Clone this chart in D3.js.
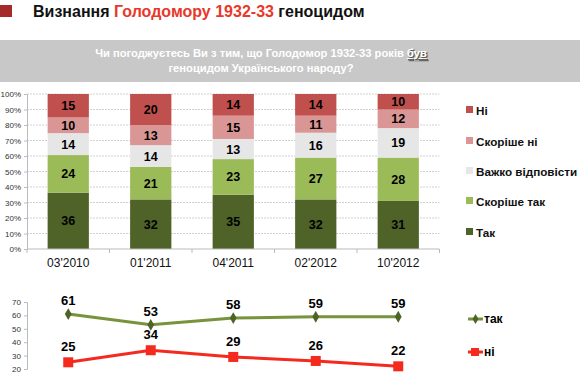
<!DOCTYPE html>
<html><head><meta charset="utf-8">
<script src="https://cdn.jsdelivr.net/npm/d3@7"></script>
<style>body{margin:0;background:#fff;}svg{display:block;font-family:"Liberation Sans",Arial,sans-serif;}</style>
</head><body>
<svg id="c" width="580" height="378"></svg>
<script>
const categories = ["03'2010","01'2011","04'2011","02'2012","10'2012"];
const seriesNames = ["Так","Скоріше так","Важко відповісти","Скоріше ні","Ні"];
const tak = [36,32,35,32,31];
const skorisheTak = [24,21,23,27,28];
const vazhko = [14,14,13,16,19];
const skorisheNi = [10,13,15,11,12];
const ni = [15,20,14,14,10];
const seriesColors = ["#4f6228","#9bbb59","#e6e6e6","#d99694","#c0504d"];
const lineTak = [61,53,58,59,59];
const lineNi = [25,34,29,26,22];
const pctTicks = [0,10,20,30,40,50,60,70,80,90,100];
const lineTicks = [20,30,40,50,60,70];

const svg = d3.select("#c");

// Title
svg.append("rect").attr("x",0).attr("y",5).attr("width",12).attr("height",12).attr("fill","#a52a2a");
const t = svg.append("text").attr("x",33).attr("y",17).attr("font-size",16).attr("font-weight","bold").attr("fill","#111");
t.append("tspan").text("Визнання ");
t.append("tspan").attr("fill","#e8382a").text("Голодомору 1932-33");
t.append("tspan").text(" геноцидом");

// Gray band
svg.append("rect").attr("x",0).attr("y",40).attr("width",580).attr("height",42).attr("fill","#c8c8c8");
const q1 = svg.append("text").attr("x",261).attr("y",57).attr("text-anchor","middle").attr("font-size",11.2).attr("font-weight","bold").attr("fill","#fff");
q1.append("tspan").text("Чи погоджуєтесь Ви з тим, що Голодомор 1932-33 років ");
q1.append("tspan").attr("text-decoration","underline").attr("style","text-shadow:1px 1px 1px #555").text("був");
svg.append("text").attr("x",261).attr("y",72).attr("text-anchor","middle").attr("font-size",11.2).attr("font-weight","bold").attr("fill","#fff").text("геноцидом Українського народу?");

// Bar chart
const x = d3.scaleBand().domain(categories).range([27,439.5]).paddingInner(0.5).paddingOuter(0.25);
const y = d3.scaleLinear().domain([0,100]).range([249,94]);

const g = svg.append("g");
g.selectAll("line.grid").data(pctTicks.slice(1)).join("line")
  .attr("x1",27).attr("x2",439.5).attr("y1",d=>y(d)).attr("y2",d=>y(d))
  .attr("stroke","#d0d0d0").attr("stroke-dasharray","2,1").attr("stroke-width",1);

const raw = [tak,skorisheTak,vazhko,skorisheNi,ni];
const rows = categories.map((c,i)=>{const o={cat:c}; let s=0; seriesNames.forEach((n,k)=>{o[n]=raw[k][i]; s+=raw[k][i];}); o.total=s; return o;});
const norm = rows.map(r=>{const o={cat:r.cat}; seriesNames.forEach(n=>o[n]=r[n]/r.total*100); return o;});
const stack = d3.stack().keys(seriesNames)(norm);
stack.forEach((layer,k)=>{
  const lg = g.append("g");
  lg.selectAll("rect").data(layer).join("rect")
    .attr("x",d=>x(d.data.cat)).attr("width",x.bandwidth())
    .attr("y",d=>y(d[1])).attr("height",d=>y(d[0])-y(d[1]))
    .attr("fill",seriesColors[k]);
  lg.selectAll("text").data(layer).join("text")
    .attr("x",d=>x(d.data.cat)+x.bandwidth()/2).attr("y",d=>(y(d[0])+y(d[1]))/2+4.5)
    .attr("text-anchor","middle").attr("font-size",12.5).attr("font-weight","bold").attr("fill","#000")
    .text((d,i)=>raw[k][i]);
});

// Axes
const yAx = d3.axisLeft(y).tickValues(pctTicks).tickFormat(d=>d+"%").tickSize(3);
const ya = g.append("g").attr("transform","translate(27,0)").call(yAx);
ya.selectAll("text").attr("font-size",8).attr("fill","#333").attr("font-family","Liberation Sans, Arial");
ya.selectAll("line,path").attr("stroke","#bbb");
const xa = g.append("g").attr("transform","translate(0,249)");
xa.append("line").attr("x1",27).attr("x2",439.5).attr("stroke","#bbb");
const bounds = d3.range(categories.length+1).map(i=>27+i*x.step());
xa.selectAll("line.tk").data(bounds).join("line").attr("x1",d=>d).attr("x2",d=>d).attr("y1",0).attr("y2",4).attr("stroke","#bbb");
xa.selectAll("text").data(categories).join("text")
  .attr("x",d=>x(d)+x.bandwidth()/2).attr("y",18).attr("text-anchor","middle").attr("font-size",12).attr("fill","#111").text(d=>d);

// Legend 1
const legOrder = [4,3,2,1,0];
const legY = [111,142,172,202,233];
legOrder.forEach((k,i)=>{
  svg.append("rect").attr("x",466).attr("y",legY[i]-5).attr("width",7).attr("height",7).attr("fill",seriesColors[k]);
  svg.append("text").attr("x",476).attr("y",legY[i]+4).attr("font-size",11.7).attr("font-weight","bold").attr("fill","#111").text(seriesNames[k]);
});

// Line chart
const yl = d3.scaleLinear().domain([20,70]).range([369,302]);
const xl = c=>x(c)+x.bandwidth()/2;
const la = svg.append("g").attr("transform","translate(27,0)").call(d3.axisLeft(yl).tickValues(lineTicks).tickSize(3));
la.selectAll("text").attr("font-size",8).attr("fill","#333").attr("font-family","Liberation Sans, Arial");
la.selectAll("line,path").attr("stroke","#bbb");

const line = d3.line().x((d,i)=>xl(categories[i])).y(d=>yl(d));
svg.append("path").datum(lineTak).attr("d",line).attr("fill","none").attr("stroke","#77933c").attr("stroke-width",3);
svg.append("path").datum(lineNi).attr("d",line).attr("fill","none").attr("stroke","#f52a1e").attr("stroke-width",3);
svg.selectAll("path.dm").data(lineTak).join("path").attr("class","dm")
  .attr("d",d3.symbol(d3.symbolDiamond,40)).attr("transform",(d,i)=>`translate(${xl(categories[i])},${yl(d)})`).attr("fill","#4f6228");
svg.selectAll("rect.sq").data(lineNi).join("rect").attr("class","sq")
  .attr("x",(d,i)=>xl(categories[i])-5).attr("y",d=>yl(d)-5).attr("width",10).attr("height",10).attr("fill","#f52a1e");
svg.selectAll("text.lt").data(lineTak).join("text").attr("class","lt")
  .attr("x",(d,i)=>xl(categories[i])).attr("y",d=>yl(d)-9).attr("text-anchor","middle").attr("font-size",13).attr("font-weight","bold").text(d=>d);
svg.selectAll("text.ln").data(lineNi).join("text").attr("class","ln")
  .attr("x",(d,i)=>xl(categories[i])).attr("y",d=>yl(d)-11).attr("text-anchor","middle").attr("font-size",13).attr("font-weight","bold").text(d=>d);

// Legend 2
svg.append("line").attr("x1",468).attr("x2",483).attr("y1",319).attr("y2",319).attr("stroke","#77933c").attr("stroke-width",3);
svg.append("path").attr("d",d3.symbol(d3.symbolDiamond,30)).attr("transform","translate(475.5,319)").attr("fill","#4f6228");
svg.append("text").attr("x",484).attr("y",323).attr("font-size",12).attr("font-weight","bold").text("так");
svg.append("line").attr("x1",468).attr("x2",483).attr("y1",352).attr("y2",352).attr("stroke","#f52a1e").attr("stroke-width",3);
svg.append("rect").attr("x",471).attr("y",348).attr("width",8).attr("height",8).attr("fill","#f52a1e");
svg.append("text").attr("x",484).attr("y",356).attr("font-size",12).attr("font-weight","bold").text("ні");
</script>
</body></html>
